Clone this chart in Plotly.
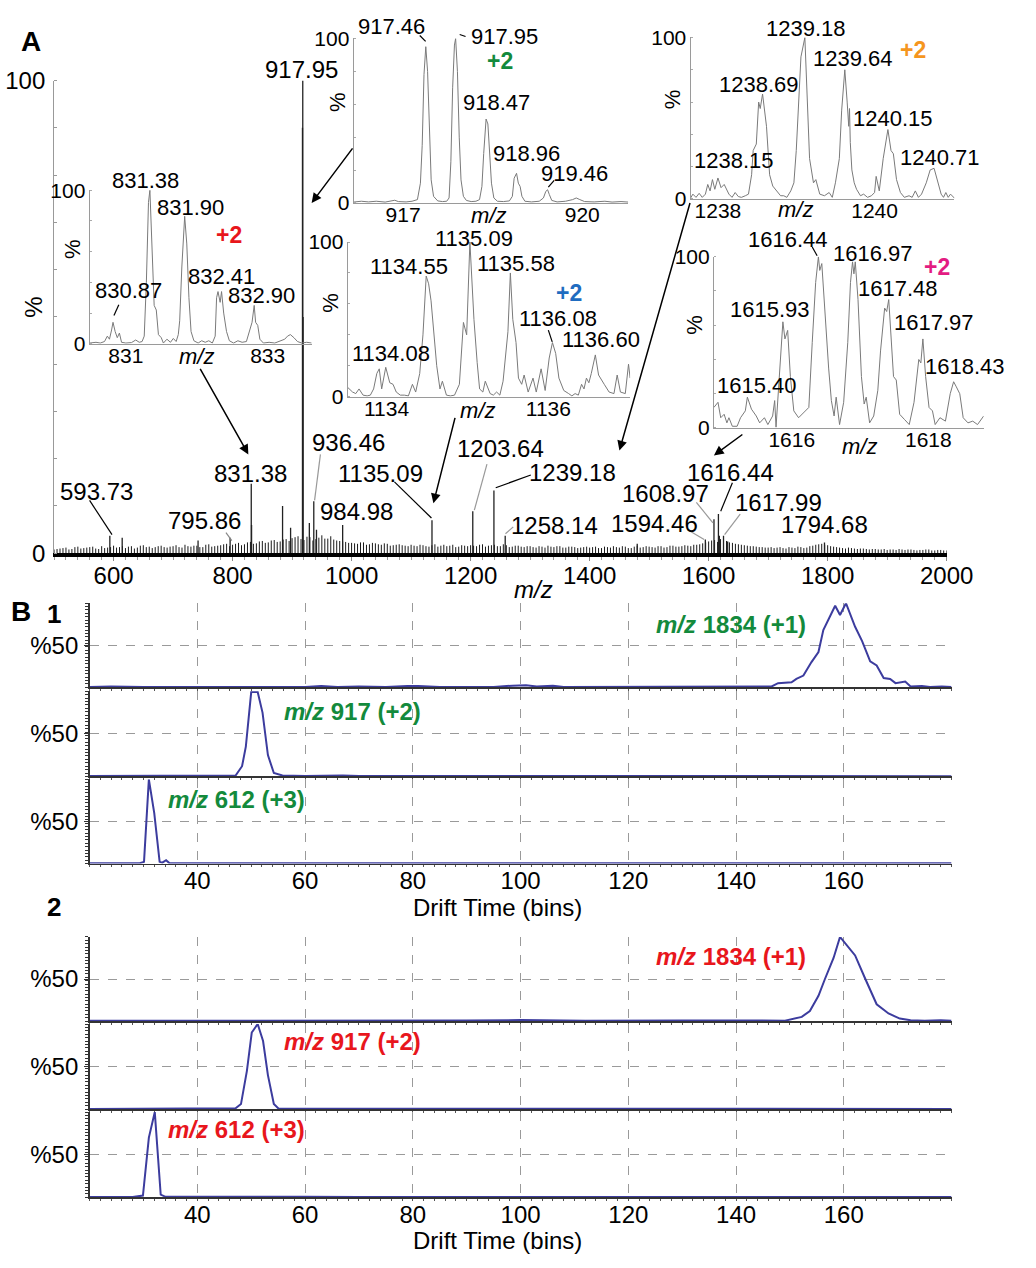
import plotly.graph_objects as go

W, H = 1036, 1268
FONT = "Liberation Sans, Arial, Helvetica, sans-serif"

# ======================= DATA =======================
# Panel A - full MS spectrum: visible peaks (m/z, relative intensity %)
main_peak_mz = [593.73, 614.5, 742.0, 795.86, 831.38, 831.90, 884.0, 897.5, 917.46, 917.95,
                918.47, 929.0, 936.46, 941.0, 984.98, 1135.09, 1203.64, 1239.18, 1258.14,
                1480.0, 1594.46, 1608.97, 1616.44, 1617.99, 1625.0, 1632.0, 1794.68]
main_peak_int = [3.7, 3.3, 2.7, 3.3, 14.7, 6.0, 10.0, 5.4, 90.0, 100.0,
                 50.0, 6.4, 11.0, 5.0, 6.0, 7.0, 8.9, 13.3, 3.7,
                 2.0, 2.9, 7.2, 8.3, 3.7, 3.7, 2.5, 2.3]
# low-level baseline grass, readings every 10 m/z starting at 500 (a) and at 505 (b)
noise_a_start, noise_b_start, noise_step = 500, 505, 10
noise_a = [
    0.8, 1.0, 1.2, 0.9, 1.4, 1.1, 1.3, 1.0, 1.5, 1.2,
    1.6, 1.3, 1.1, 1.5, 1.2, 1.7, 1.4, 1.3, 1.6, 1.2,
    1.5, 1.3, 1.8, 1.4, 1.6, 1.3, 1.9, 1.5, 1.7, 2.0,
    1.8, 2.2, 1.9, 2.4, 2.1, 2.6, 2.3, 2.8, 2.5, 3.0,
    3.2, 3.6, 2.8, 3.4, 3.0, 3.8, 3.1, 2.9, 2.6, 2.4,
    2.2, 2.0, 2.3, 1.9, 2.1, 1.8, 2.0, 1.7, 1.9, 1.6,
    1.8, 1.5, 1.7, 1.4, 1.9, 1.6, 1.5, 1.8, 1.4, 1.6,
    1.7, 1.5, 1.9, 1.6, 1.8, 1.5, 1.7, 1.4, 1.6, 1.3,
    1.5, 1.2, 1.4, 1.6, 1.3, 1.5, 1.2, 1.4, 1.1, 1.3,
    1.2, 1.4, 1.1, 1.3, 1.5, 1.2, 1.4, 1.1, 1.6, 1.3,
    1.4, 1.2, 1.5, 1.3, 1.6, 1.4, 1.7, 1.5, 1.8, 2.1,
    2.5, 2.8, 3.0, 2.6, 2.2, 1.9, 1.7, 1.5, 1.4, 1.3,
    1.2, 1.1, 1.3, 1.0, 1.2, 1.4, 1.1, 1.5, 1.8, 2.0,
    1.7, 1.4, 1.2, 1.0, 1.1, 0.9, 1.0, 0.8, 0.9, 0.8,
    0.7, 0.8, 0.9, 0.7, 0.8, 0.6, 0.7, 0.8, 0.6, 0.7,
    0.6]
noise_b = [
    0.9, 1.1, 0.8, 1.3, 1.0, 1.2, 1.4, 0.9, 1.1, 1.3,
    1.2, 1.5, 1.4, 1.0, 1.6, 1.3, 1.1, 1.5, 1.3, 1.4,
    1.7, 1.2, 1.5, 1.6, 1.3, 1.8, 1.4, 1.6, 1.9, 1.5,
    2.0, 1.7, 2.3, 2.0, 2.5, 2.2, 2.7, 2.4, 2.9, 2.6,
    3.4, 3.0, 3.5, 2.7, 3.3, 3.1, 3.6, 2.7, 2.5, 2.2,
    2.1, 2.3, 1.8, 2.2, 1.9, 2.1, 1.6, 1.8, 1.7, 1.5,
    1.6, 1.8, 1.5, 1.7, 1.4, 1.8, 1.6, 1.3, 1.7, 1.5,
    1.6, 1.8, 1.4, 1.7, 1.5, 1.9, 1.3, 1.6, 1.4, 1.5,
    1.3, 1.5, 1.2, 1.4, 1.5, 1.2, 1.4, 1.3, 1.2, 1.4,
    1.3, 1.1, 1.4, 1.2, 1.3, 1.5, 1.1, 1.4, 1.2, 1.5,
    1.3, 1.5, 1.2, 1.6, 1.4, 1.5, 1.6, 1.8, 1.9, 2.3,
    2.7, 2.4, 2.9, 2.3, 2.0, 1.8, 1.6, 1.5, 1.3, 1.2,
    1.3, 1.2, 1.1, 1.3, 1.1, 1.3, 1.2, 1.6, 1.9, 1.8,
    1.5, 1.3, 1.1, 1.2, 1.0, 1.0, 0.9, 0.9, 0.8, 0.9,
    0.8, 0.7, 0.8, 0.8, 0.7, 0.7, 0.8, 0.6, 0.7, 0.6]
main_xticks = [600, 800, 1000, 1200, 1400, 1600, 1800, 2000]

# Inset profiles (m/z, %)
ins831 = [(830.49, 0.5), (830.58, 1.0), (830.64, 0.5), (830.70, 1.5), (830.74, 5), (830.77, 3), (830.80, 9),
          (830.82, 14), (830.85, 8), (830.88, 4), (830.91, 7), (830.94, 1), (831.00, 0.5), (831.08, 0.8),
          (831.14, 2.5), (831.19, 1), (831.23, 1.5), (831.26, 5), (831.29, 40), (831.32, 92), (831.34, 100),
          (831.37, 60), (831.40, 25), (831.43, 22), (831.46, 6), (831.50, 4), (831.53, 0.5), (831.58, 3),
          (831.63, 1), (831.67, 3.5), (831.71, 1.5), (831.74, 6), (831.76, 15), (831.79, 50), (831.83, 83),
          (831.86, 65), (831.89, 30), (831.92, 8), (831.96, 2), (832.02, 0.5), (832.07, 2), (832.12, 1),
          (832.17, 2), (832.22, 0.5), (832.26, 5), (832.28, 30), (832.30, 34), (832.33, 27), (832.35, 34),
          (832.38, 20), (832.42, 8), (832.46, 2), (832.52, 0.5), (832.58, 2), (832.64, 1), (832.70, 1.5),
          (832.75, 10), (832.78, 14), (832.81, 25), (832.83, 14), (832.86, 12), (832.89, 3), (832.94, 0.5),
          (833.02, 1), (833.10, 0.5), (833.17, 1.5), (833.24, 3), (833.28, 5), (833.32, 6), (833.37, 4),
          (833.42, 1.5), (833.48, 0.5), (833.55, 1), (833.62, 0.5)]
ins917 = [(916.17, 0.5), (916.30, 1.0), (916.42, 0.6), (916.55, 1.0), (916.70, 0.5), (916.80, 1.2), (916.86, 1.6),
          (916.92, 0.8), (917.05, 0.6), (917.15, 1.0), (917.24, 2), (917.29, 12), (917.32, 35), (917.35, 78),
          (917.38, 95), (917.41, 80), (917.44, 40), (917.47, 14), (917.51, 4), (917.58, 1.2), (917.66, 0.8),
          (917.73, 1.0), (917.77, 3), (917.80, 25), (917.83, 70), (917.86, 96), (917.88, 100), (917.91, 80),
          (917.94, 40), (917.97, 14), (918.01, 4), (918.06, 1.5), (918.14, 0.8), (918.22, 1), (918.28, 2),
          (918.32, 10), (918.35, 30), (918.39, 51), (918.42, 48), (918.45, 30), (918.48, 12), (918.52, 3),
          (918.58, 1), (918.68, 0.8), (918.78, 1.2), (918.83, 4), (918.86, 15), (918.90, 18), (918.93, 12),
          (918.96, 10), (918.99, 4), (919.04, 1), (919.15, 0.6), (919.28, 1), (919.35, 3), (919.39, 7),
          (919.42, 8), (919.45, 5), (919.49, 1.5), (919.58, 0.6), (919.72, 1), (919.84, 2), (919.90, 3),
          (919.96, 2), (920.04, 0.8), (920.20, 0.6), (920.38, 1), (920.50, 0.5), (920.65, 0.8), (920.77, 0.5)]
ins1239 = [(1237.65, 0.5), (1237.68, 3), (1237.72, 1), (1237.76, 3.5), (1237.80, 1), (1237.84, 3), (1237.87, 9),
           (1237.90, 5), (1237.93, 12), (1237.96, 6), (1238.00, 13), (1238.04, 7), (1238.08, 9), (1238.14, 3),
           (1238.18, 1), (1238.22, 4), (1238.26, 1.5), (1238.30, 1), (1238.35, 2), (1238.39, 3), (1238.43, 15),
           (1238.45, 30), (1238.49, 34), (1238.52, 60), (1238.54, 56), (1238.57, 65), (1238.62, 45),
           (1238.66, 15), (1238.70, 8), (1238.76, 4), (1238.80, 2), (1238.84, 2), (1238.88, 1), (1238.93, 5),
           (1238.97, 10), (1239.00, 30), (1239.03, 60), (1239.06, 88), (1239.11, 100), (1239.14, 65),
           (1239.17, 25), (1239.22, 10), (1239.25, 12), (1239.30, 3), (1239.36, 2), (1239.42, 4), (1239.46, 1),
           (1239.50, 10), (1239.55, 25), (1239.58, 55), (1239.62, 80), (1239.65, 60), (1239.67, 45),
           (1239.68, 56), (1239.69, 35), (1239.71, 18), (1239.74, 10), (1239.77, 6), (1239.82, 2), (1239.86, 3),
           (1239.91, 1), (1239.96, 2), (1240.00, 4), (1240.02, 14), (1240.06, 5), (1240.11, 25), (1240.17, 43),
           (1240.21, 30), (1240.24, 28), (1240.28, 12), (1240.33, 4), (1240.38, 1), (1240.44, 2), (1240.48, 1),
           (1240.52, 5), (1240.56, 1), (1240.60, 3), (1240.66, 10), (1240.71, 18), (1240.76, 19), (1240.81, 10),
           (1240.85, 3), (1240.88, 1), (1240.91, 4), (1240.94, 1), (1240.97, 3), (1241.02, 0.5)]
ins1135 = [(1133.52, 6), (1133.58, 3), (1133.62, 2), (1133.66, 5), (1133.71, 1), (1133.76, 0.5), (1133.80, 1),
           (1133.84, 5), (1133.88, 15), (1133.91, 18), (1133.94, 5), (1133.99, 19), (1134.04, 9), (1134.08, 8),
           (1134.12, 3), (1134.17, 1), (1134.22, 1), (1134.27, 0.5), (1134.32, 8), (1134.36, 3), (1134.41, 15),
           (1134.45, 40), (1134.49, 78), (1134.52, 73), (1134.55, 62), (1134.58, 44), (1134.62, 20),
           (1134.66, 5), (1134.69, 10), (1134.74, 1), (1134.79, 0.5), (1134.84, 1), (1134.90, 8), (1134.95, 48),
           (1134.99, 40), (1135.03, 100), (1135.06, 70), (1135.08, 50), (1135.12, 22), (1135.15, 5),
           (1135.19, 3), (1135.22, 10), (1135.28, 2), (1135.32, 1), (1135.36, 3), (1135.40, 1), (1135.44, 10),
           (1135.50, 42), (1135.53, 80), (1135.56, 50), (1135.60, 35), (1135.63, 12), (1135.67, 8),
           (1135.70, 14), (1135.75, 3), (1135.81, 12), (1135.85, 3), (1135.91, 18), (1135.96, 4), (1136.01, 25),
           (1136.05, 35), (1136.09, 28), (1136.13, 12), (1136.19, 4), (1136.25, 2), (1136.29, 0.5),
           (1136.33, 2), (1136.37, 1), (1136.41, 8), (1136.44, 5), (1136.47, 12), (1136.50, 9), (1136.53, 15),
           (1136.58, 27), (1136.62, 14), (1136.66, 10), (1136.69, 8), (1136.75, 3), (1136.81, 2), (1136.85, 14),
           (1136.89, 3), (1136.95, 2), (1136.99, 21), (1137.01, 12)]
ins1616 = [(1614.86, 12), (1614.92, 15), (1614.96, 6), (1615.01, 8), (1615.05, 3), (1615.08, 6), (1615.13, 1),
           (1615.20, 1), (1615.25, 6), (1615.32, 10), (1615.35, 18), (1615.41, 11), (1615.48, 7), (1615.53, 3),
           (1615.60, 6), (1615.65, 2), (1615.72, 7), (1615.75, 16), (1615.77, 0.5), (1615.82, 30),
           (1615.87, 62), (1615.90, 52), (1615.94, 57), (1615.98, 30), (1616.03, 10), (1616.10, 6),
           (1616.17, 9), (1616.25, 12), (1616.30, 50), (1616.35, 85), (1616.39, 100), (1616.41, 92),
           (1616.44, 96), (1616.48, 70), (1616.54, 35), (1616.58, 16), (1616.62, 7), (1616.65, 18),
           (1616.70, 2), (1616.76, 15), (1616.82, 50), (1616.86, 85), (1616.89, 97), (1616.91, 90),
           (1616.93, 97), (1616.97, 75), (1617.02, 30), (1617.06, 14), (1617.09, 18), (1617.14, 3),
           (1617.20, 7), (1617.26, 22), (1617.30, 45), (1617.36, 70), (1617.39, 68), (1617.42, 75),
           (1617.46, 45), (1617.49, 30), (1617.53, 28), (1617.58, 8), (1617.65, 5), (1617.72, 2),
           (1617.79, 15), (1617.86, 40), (1617.89, 38), (1617.92, 52), (1617.96, 30), (1618.01, 12),
           (1618.06, 10), (1618.10, 2), (1618.17, 6), (1618.25, 4), (1618.32, 20), (1618.37, 27),
           (1618.41, 24), (1618.46, 20), (1618.51, 6), (1618.58, 3), (1618.65, 4), (1618.72, 2), (1618.81, 7)]

# Panel B - arrival time distributions (drift bin, %)
b1_1834 = [(20, 0.5), (24, 1), (30, 0.5), (36, 0.3), (42, 0.5), (48, 0.4), (54, 0.5), (60, 0.3), (63, 1.5),
           (66, 0.5), (70, 1), (75, 0.5), (79, 1.5), (81, 1.5), (85, 0.5), (90, 0.5), (95, 0.5), (98.5, 2),
           (101, 2.5), (103, 1), (106, 2), (108, 0.3), (112, 0.3), (118, 0.5), (125, 0.3), (132, 0.4),
           (138, 0.3), (143, 0.8), (146.6, 1), (147.8, 5), (150.3, 6), (151.2, 10), (152.5, 14), (154.0, 30),
           (155.3, 42), (156.2, 68), (158.4, 97), (159.3, 86), (160.4, 100), (162.1, 72), (163.4, 55),
           (164.9, 31), (166.1, 26), (167.4, 11), (168.6, 10), (169.6, 5), (171.4, 7), (172.4, 1),
           (174.5, 1.5), (176, 0.5), (178.2, 1), (180, 0.5)]
b1_917 = [(20, 0.5), (30, 0.5), (40, 0.3), (42.8, 0.5), (45, 0.4), (47.1, 1), (48.3, 12), (49.0, 35),
          (50.0, 99), (51.2, 99), (52.1, 75), (53.1, 25), (54.2, 4), (55.8, 1), (60, 0.5), (67, 1.2),
          (70, 0.5), (80, 0.5), (90, 0.4), (100, 0.5), (120, 0.3), (140, 0.3), (155, 1), (157, 0.3), (180, 0.3)]
b1_612 = [(20, 0.3), (29.3, 0.3), (30.1, 2), (31.0, 100), (32.0, 60), (33.0, 2), (33.5, 1), (34.2, 4),
          (34.8, 0.5), (40, 0.3), (60, 0.3), (100, 0.3), (140, 0.3), (180, 0.3)]
b2_1834 = [(20, 0.3), (60, 0.3), (62, 1), (66, 1), (70, 0.5), (80, 0.8), (90, 0.6), (100, 1.2), (104, 0.6),
           (108, 0.8), (112, 0.3), (130, 0.8), (133, 0.6), (140, 0.3), (144, 0.8), (149.1, 0.5), (152.2, 5),
           (153.7, 12), (155.3, 30), (156.5, 50), (158.1, 75), (159.3, 100), (160.6, 90), (162.1, 78),
           (164.0, 50), (166.1, 20), (168.3, 9), (170.4, 3), (172.4, 1), (175, 0.5), (178, 1), (180, 0.5)]
b2_917 = [(20, 0.3), (40, 0.3), (47.1, 1), (48.1, 6), (49.2, 45), (50.1, 90), (51.2, 100), (52.2, 80),
          (53.1, 40), (54.2, 6), (55.1, 0.5), (60, 0.5), (80, 0.5), (100, 0.8), (104, 0.5), (108, 0.6),
          (112, 0.3), (180, 0.3)]
b2_612 = [(20, 0.3), (28, 0.3), (29.9, 2), (31.0, 70), (32.1, 100), (33.2, 3), (34.1, 0.5), (40, 0.8),
          (50, 0.6), (60, 0.5), (70, 0.3), (180, 0.3)]
drift_ticks = [40, 60, 80, 100, 120, 140, 160, 180]

# ======================= HELPERS =======================
def P(x, y):
    return x / W, 1 - y / H

def dom_x(a, b):
    return [a / W, b / W]

def dom_y(top, bottom):
    return [1 - bottom / H, 1 - top / H]

def unzip(pairs):
    return [p[0] for p in pairs], [p[1] for p in pairs]

def sticks(mz, it):
    xs, ys = [], []
    for m, v in zip(mz, it):
        xs += [m, m, None]
        ys += [0, v, None]
    return xs, ys

annotations, shapes = [], []

def label(text, cx, cy, size=22, color="black", bold=False, angle=0):
    if bold:
        text = "<b>" + text + "</b>"
    x, y = P(cx, cy)
    annotations.append(dict(text=text, x=x, y=y, xref="paper", yref="paper", xanchor="center",
                            yanchor="middle", showarrow=False, textangle=angle, borderpad=0,
                            font=dict(family=FONT, size=size, color=color)))

def arrow(x0, y0, x1, y1):
    x, y = P(x1, y1)
    annotations.append(dict(text="", x=x, y=y, ax=x0 - x1, ay=y0 - y1, xref="paper", yref="paper",
                            axref="pixel", ayref="pixel", showarrow=True, arrowhead=2,
                            arrowsize=1.3, arrowwidth=1.5, arrowcolor="black"))

def seg(x0, y0, x1, y1, color="black", width=1.2):
    a, b = P(x0, y0)
    c, d = P(x1, y1)
    shapes.append(dict(type="line", xref="paper", yref="paper", x0=a, y0=b, x1=c, y1=d,
                       line=dict(color=color, width=width)))

fig = go.Figure()
layout = dict(width=W, height=H, margin=dict(l=0, r=0, t=0, b=0, pad=0), autosize=False,
              paper_bgcolor="white", plot_bgcolor="rgba(0,0,0,0)", showlegend=False,
              font=dict(family=FONT, color="black"))

# ---------------- Panel A main spectrum ----------------
noise_a_mz = [noise_a_start + i * noise_step for i in range(len(noise_a))]
noise_b_mz = [noise_b_start + i * noise_step for i in range(len(noise_b))]
nx, ny = sticks(noise_a_mz + noise_b_mz, noise_a + noise_b)
fig.add_trace(go.Scatter(x=nx, y=ny, mode="lines", line=dict(color="#1a1a1a", width=1),
                         xaxis="x", yaxis="y", hoverinfo="skip"))
px_, py_ = sticks(main_peak_mz, main_peak_int)
fig.add_trace(go.Scatter(x=px_, y=py_, mode="lines", line=dict(color="#222", width=1.3),
                         xaxis="x", yaxis="y", hoverinfo="skip"))
layout["xaxis"] = dict(domain=dom_x(55.5, 972), range=[500, 2000], anchor="y", showline=True,
                       linecolor="black", linewidth=3.5, ticks="outside", ticklen=4, tickcolor="#888",
                       tickvals=main_xticks, tickfont=dict(size=24), showgrid=False, zeroline=False,
                       minor=dict(ticks="outside", ticklen=3, tickcolor="#999", tickmode="linear",
                                  tick0=500, dtick=20),
                       ticklabelstandoff=-6)
layout["yaxis"] = dict(domain=dom_y(68, 551), range=[0, 100], anchor="x", showline=True,
                       linecolor="#999", linewidth=1, tickvals=[0, 100], ticks="",
                       tickfont=dict(size=24), showgrid=False, zeroline=False,
                       minor=dict(ticks="inside", ticklen=3, tickcolor="#999", tickmode="linear",
                                  tick0=0, dtick=10),
                       ticklabelstandoff=3)

# ---------------- insets ----------------
insets = [
    (ins831, (92, 320), (180, 337), (830.49, 833.62), [831, 833]),
    (ins917, (363, 645), (25, 193), (916.17, 920.77), [917, 920]),
    (ins1239, (709, 980), (24, 189), (1237.65, 1241.02), [1238, 1240]),
    (ins1135, (357, 647), (233, 391), (1133.52, 1137.01), [1134, 1136]),
    (ins1616, (733, 1010), (248, 423), (1614.86, 1618.81), [1616, 1618]),
]
n = 2
for data, xd, yd, xr, xt in insets:
    xs, ys = unzip(data)
    fig.add_trace(go.Scatter(x=xs, y=ys, mode="lines", line=dict(color="#7a7a7a", width=1),
                             xaxis="x%d" % n, yaxis="y%d" % n, hoverinfo="skip"))
    layout["xaxis%d" % n] = dict(domain=dom_x(*xd), range=list(xr), anchor="y%d" % n, showline=True,
                                 linecolor="#9a9a9a", linewidth=1, tickvals=xt, ticks="",
                                 tickfont=dict(size=21), showgrid=False, zeroline=False,
                                 ticklabelstandoff=-7)
    layout["yaxis%d" % n] = dict(domain=dom_y(*yd), range=[0, 100], anchor="x%d" % n, showline=True,
                                 linecolor="#9a9a9a", linewidth=1, tickvals=[0, 100], ticks="",
                                 tickfont=dict(size=21), showgrid=False, zeroline=False,
                                 minor=dict(ticks="inside", ticklen=2, tickcolor="#aaa",
                                            tickmode="linear", tick0=0, dtick=20),
                                 ticklabelstandoff=-1)
    n += 1

# ---------------- Panel B ----------------
b_series = [b1_1834, b1_917, b1_612, b2_1834, b2_917, b2_612]
b_rows = [(602, 688), (692, 779), (782, 868), (943, 1029), (1032, 1119), (1122, 1209)]
for i, (data, (top, bot)) in enumerate(zip(b_series, b_rows)):
    k = n + i
    xs, ys = unzip(data)
    fig.add_trace(go.Scatter(x=xs, y=ys, mode="lines", line=dict(color="#3c3c9e", width=2),
                             xaxis="x%d" % k, yaxis="y%d" % k, hoverinfo="skip"))
    bottom = i in (2, 5)
    layout["xaxis%d" % k] = dict(domain=dom_x(92, 977), range=[20, 180], anchor="y%d" % k,
                                 showline=True, linecolor="#333", linewidth=1.5,
                                 tickmode="array", tickvals=drift_ticks,
                                 ticktext=[str(t) if t < 180 else "" for t in drift_ticks],
                                 showticklabels=bottom, ticks="", tickfont=dict(size=24),
                                 showgrid=True, gridcolor="#9a9a9a", griddash="dash", gridwidth=1,
                                 zeroline=False,
                                 minor=dict(ticks="outside", ticklen=2, tickcolor="#555",
                                            tickmode="linear", tick0=20, dtick=2),
                                 ticklabelstandoff=-5)
    layout["yaxis%d" % k] = dict(domain=dom_y(top, bot), range=[0, 100], anchor="x%d" % k,
                                 showline=True, linecolor="#333", linewidth=1.5,
                                 tickmode="array", tickvals=[50], ticktext=["%50"], ticks="outside",
                                 ticklen=4, tickcolor="#333", tickfont=dict(size=24),
                                 showgrid=True, gridcolor="#9a9a9a", griddash="dash", gridwidth=1,
                                 zeroline=False,
                                 minor=dict(ticks="outside", ticklen=3, tickcolor="#333",
                                            tickmode="linear", tick0=0, dtick=4),
                                 ticklabelstandoff=1)

# ======================= TEXT =======================
GREEN, RED, ORANGE, BLUE, MAGENTA = "#138a3c", "#e8161c", "#f5961e", "#1f6cc0", "#e31c82"

label("A", 32, 28, 28, bold=True)
label("%", 35, 300, 24, angle=-90)
label("<i>m/z</i>", 548, 588, 24)

for t, cx, cy in [("917.95", 310, 57), ("593.73", 99, 488), ("795.86", 210, 518), ("831.38", 257, 470),
                  ("936.46", 358, 438), ("984.98", 366, 508), ("1135.09", 391, 470), ("1203.64", 514, 444),
                  ("1239.18", 588, 468), ("1258.14", 569, 523), ("1594.46", 672, 521), ("1608.97", 683, 490),
                  ("1616.44", 750, 468), ("1617.99", 799, 499), ("1794.68", 847, 522)]:
    label(t, cx, cy, 24)

# inset labels
for t, cx, cy in [("831.38", 149, 170), ("831.90", 196, 198), ("832.41", 227, 268), ("832.90", 268, 288),
                  ("830.87", 132, 283),
                  ("917.46", 402, 13), ("917.95", 518, 23), ("918.47", 510, 90), ("918.96", 541, 143),
                  ("919.46", 590, 163),
                  ("1239.18", 828, 15), ("1239.64", 876, 45), ("1238.69", 779, 72), ("1240.15", 917, 107),
                  ("1238.15", 754, 150), ("1240.71", 965, 147),
                  ("1135.09", 487, 229), ("1134.55", 420, 258), ("1135.58", 530, 255), ("1136.08", 573, 311),
                  ("1136.60", 617, 333), ("1134.08", 401, 347),
                  ("1616.44", 809, 230), ("1616.97", 896, 245), ("1617.48", 922, 280), ("1615.93", 791, 302),
                  ("1617.97", 959, 315), ("1618.43", 991, 360), ("1615.40", 777, 380)]:
    label(t, cx, cy, 22)

label("+2", 235, 226, 23, RED, bold=True)
label("+2", 513, 48, 23, GREEN, bold=True)
label("+2", 937, 37, 23, ORANGE, bold=True)
label("+2", 584, 285, 23, BLUE, bold=True)
label("+2", 962, 258, 23, MAGENTA, bold=True)

for cx, cy in [(75, 240), (346, 90), (690, 87), (340, 295), (713, 317)]:
    label("%", cx, cy, 22, angle=-90)
for cx, cy in [(202, 350), (502, 206), (817, 200), (490, 405), (883, 442)]:
    label("<i>m/z</i>", cx, cy, 22)

# arrows from insets to peaks
arrow(206, 363, 255, 450)
arrow(362, 137, 320, 193)
arrow(467, 413, 445, 500)
arrow(707, 197, 636, 446)
arrow(763, 429, 733, 451)

# leader lines
for x0, y0, x1, y1, c in [(92, 497, 115, 532, "black"), (232, 530, 238, 538, "#888"),
                          (329, 450, 323, 497, "#999"), (405, 478, 443, 515, "black"),
                          (500, 460, 487, 507, "#999"), (509, 484, 545, 471, "black"),
                          (519, 531, 527, 524, "#999"), (706, 527, 723, 537, "#999"),
                          (715, 499, 732, 520, "#999"), (752, 479, 740, 508, "black"),
                          (760, 511, 744, 532, "#999"),
                          (117, 308, 122, 297, "black"), (431, 22, 437, 28, "black"),
                          (472, 21, 478, 23, "black"), (563, 177, 569, 170, "black"),
                          (563, 323, 567, 335, "black"), (834, 238, 839, 247, "black")]:
    seg(x0, y0, x1, y1, c, 1.2)

# Panel B text
label("B", 22, 610, 28, bold=True)
label("1", 55, 613, 26, bold=True)
label("2", 55, 912, 26, bold=True)
label("Drift Time (bins)", 511, 913, 24)
label("Drift Time (bins)", 511, 1253, 24)
label("<i>m/z</i> 1834 (+1)", 751, 624, 24, GREEN, bold=True)
label("<i>m/z</i> 917 (+2)", 362, 713, 24, GREEN, bold=True)
label("<i>m/z</i> 612 (+3)", 243, 803, 24, GREEN, bold=True)
label("<i>m/z</i> 1834 (+1)", 751, 963, 24, RED, bold=True)
label("<i>m/z</i> 917 (+2)", 362, 1050, 24, RED, bold=True)
label("<i>m/z</i> 612 (+3)", 243, 1140, 24, RED, bold=True)

layout["annotations"] = annotations
layout["shapes"] = shapes
fig.update_layout(**layout)

PIN = ("document.documentElement.style.margin='0';document.documentElement.style.padding='0';"
       "document.documentElement.style.overflow='hidden';"
       "document.body.style.margin='0';document.body.style.padding='0';document.body.style.overflow='hidden';"
       "var g=document.getElementsByClassName('plotly-graph-div')[0];"
       "if(g){g.style.position='fixed';g.style.left='0px';g.style.top='0px';}")

fig.write_html("out.html", config={"displayModeBar": False, "staticPlot": True}, post_script=PIN)
